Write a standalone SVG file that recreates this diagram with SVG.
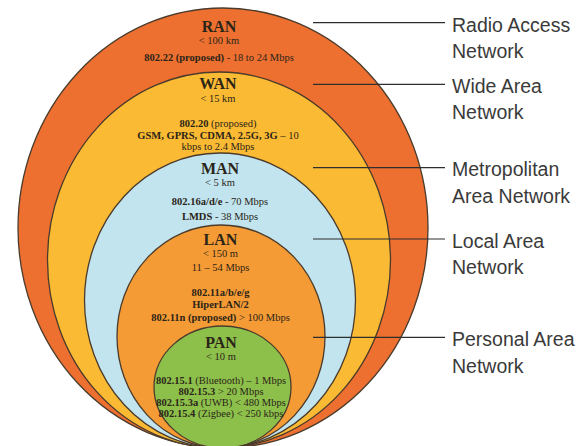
<svg xmlns="http://www.w3.org/2000/svg" width="588" height="446" viewBox="0 0 588 446">
<style>
.ring{stroke:#4a3b2c;stroke-width:1.3}
.t{font-family:"Liberation Serif","Times New Roman",serif;fill:#2b2418;text-anchor:middle}
.h{font-size:16px;font-weight:bold}
.s{font-size:10.5px}
.b{font-weight:bold}
.lbl{font-family:"Liberation Sans",Arial,sans-serif;font-size:19.5px;fill:#3a3a3a}
.con{stroke:#2e2e2e;stroke-width:1.2;fill:none}
</style>
<rect width="588" height="446" fill="#ffffff"/>
<g id="ran">
<ellipse class="ring" cx="223" cy="228" rx="205" ry="220" fill="#ED7030"/>
<text class="t h" x="219" y="31.5">RAN</text>
<text class="t s" x="219" y="43.5">&lt; 100 km</text>
<text class="t s" x="219" y="61"><tspan class="b">802.22 (proposed)</tspan> - 18 to 24 Mbps</text>
</g>
<g id="wan">
<ellipse class="ring" cx="219" cy="260" rx="171.5" ry="188" fill="#FBBA33"/>
<text class="t h" x="218" y="89">WAN</text>
<text class="t s" x="218" y="101.5">&lt; 15 km</text>
<text class="t s" x="218" y="126.5"><tspan class="b">802.20</tspan> (proposed)</text>
<text class="t s" x="218" y="138.5"><tspan class="b">GSM, GPRS, CDMA, 2.5G, 3G</tspan> – 10</text>
<text class="t s" x="218" y="150">kbps to 2.4 Mbps</text>
</g>
<g id="man">
<ellipse class="ring" cx="220" cy="300.5" rx="135.5" ry="147.5" fill="#C1E4EE"/>
<text class="t h" x="220" y="174">MAN</text>
<text class="t s" x="220" y="186">&lt; 5 km</text>
<text class="t s" x="220" y="205"><tspan class="b">802.16a/d/e</tspan> - 70 Mbps</text>
<text class="t s" x="220" y="220"><tspan class="b">LMDS</tspan> - 38 Mbps</text>
</g>
<g id="lan">
<ellipse class="ring" cx="221" cy="336.5" rx="104" ry="111.5" fill="#F59B35"/>
<text class="t h" x="220.5" y="245">LAN</text>
<text class="t s" x="220.5" y="257">&lt; 150 m</text>
<text class="t s" x="220.5" y="270.5">11 – 54 Mbps</text>
<text class="t s b" x="220.5" y="295.5">802.11a/b/e/g</text>
<text class="t s b" x="220.5" y="307.5">HiperLAN/2</text>
<text class="t s" x="220.5" y="320.5"><tspan class="b">802.11n (proposed)</tspan> &gt; 100 Mbps</text>
</g>
<g id="pan">
<ellipse class="ring" cx="222.5" cy="387" rx="68.5" ry="61" fill="#8DC04B"/>
<text class="t h" x="221" y="347.5">PAN</text>
<text class="t s" x="221" y="359.5">&lt; 10 m</text>
<text class="t s" x="221" y="383.5"><tspan class="b">802.15.1</tspan> (Bluetooth) – 1 Mbps</text>
<text class="t s" x="221" y="394.5"><tspan class="b">802.15.3</tspan> &gt; 20 Mbps</text>
<text class="t s" x="221" y="405.5"><tspan class="b">802.15.3a</tspan>  (UWB) &lt; 480 Mbps</text>
<text class="t s" x="221" y="416.5"><tspan class="b">802.15.4</tspan>  (Zigbee) &lt; 250 kbps</text>
</g>
<g id="connectors">
<line class="con" x1="313" y1="22.7" x2="445" y2="22.7"/>
<line class="con" x1="313" y1="84.3" x2="445" y2="84.3"/>
<line class="con" x1="313" y1="167.7" x2="445" y2="167.7"/>
<line class="con" x1="313" y1="239" x2="445" y2="239"/>
<line class="con" x1="313" y1="337.3" x2="445" y2="337.3"/>
</g>
<g id="labels">
<text class="lbl" x="452" y="31.5">Radio Access</text>
<text class="lbl" x="452" y="58">Network</text>
<text class="lbl" x="452" y="92.5">Wide Area</text>
<text class="lbl" x="452" y="119">Network</text>
<text class="lbl" x="452" y="176">Metropolitan</text>
<text class="lbl" x="452" y="202.5">Area Network</text>
<text class="lbl" x="452" y="247.5">Local Area</text>
<text class="lbl" x="452" y="273.5">Network</text>
<text class="lbl" x="452" y="346">Personal Area</text>
<text class="lbl" x="452" y="372.5">Network</text>
</g>
</svg>
